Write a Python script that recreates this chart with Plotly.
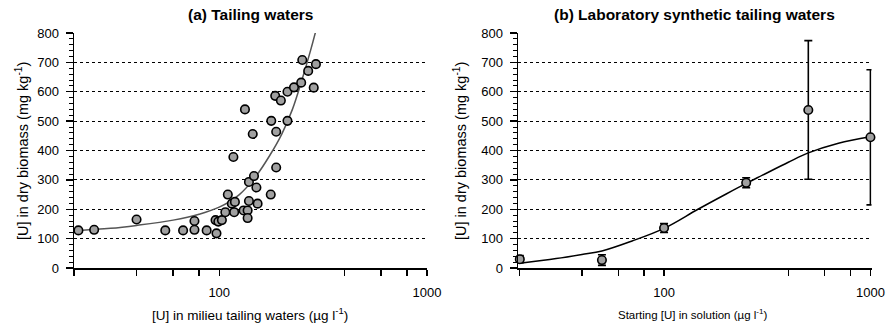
import plotly.graph_objects as go
import numpy as np

# ---- Panel (a): tailing waters (scatter + fitted curve) ----
a_x = [21, 25, 40, 55, 67, 76, 76, 87, 97, 96, 99, 103, 107, 110, 115, 119, 118,
       131, 137, 137, 139, 139, 147, 151, 153, 177, 188,
       117, 133, 145, 178, 188, 213, 186, 198, 213, 229, 248, 251, 268, 285, 292]
a_y = [128, 130, 165, 128, 128, 160, 130, 128, 118, 163, 158, 163, 190, 250, 219, 225, 190,
       196, 196, 170, 228, 293, 313, 274, 219, 250, 342,
       378, 540, 456, 501, 464, 501, 586, 570, 600, 615, 631, 708, 671, 614, 694]
a_fit_x = [20, 30, 40, 60, 80, 100, 125, 150, 175, 200, 225, 250, 275, 300]
a_fit_y = [127, 135, 145, 163, 183, 207, 250, 312, 383, 456, 540, 640, 740, 840]

# ---- Panel (b): laboratory synthetic tailing waters ----
b_x = [20, 50, 100, 250, 500, 1000]
b_y = [30, 27, 136, 290, 538, 445]
b_err = [12, 18, 15, 17, 236, 230]
b_fit_x = [20, 30, 40, 50, 70, 100, 146, 200, 250, 300, 400, 500, 700, 1000]
b_fit_y = [16, 32, 46, 58, 92, 135, 200, 252, 288, 316, 360, 392, 425, 447]

# tick labels
x_tickvals = [20, 40, 60, 80, 100, 400, 600, 800, 1000]
x_ticktext = ["", "", "", "", "100", "", "", "", "1000"]
y_tickvals = [0, 100, 200, 300, 400, 500, 600, 700, 800]

FONT = "Liberation Sans, Arial, sans-serif"
W, H = 887, 327
marker_style = dict(size=8.5, color="#a0a0a0", line=dict(color="black", width=1.6))

fig = go.Figure()
fig.add_trace(go.Scatter(x=a_fit_x, y=a_fit_y, mode="lines",
                         line=dict(color="#555555", width=1.5, shape="spline"),
                         xaxis="x", yaxis="y", hoverinfo="skip"))
fig.add_trace(go.Scatter(x=a_x, y=a_y, mode="markers", marker=marker_style,
                         xaxis="x", yaxis="y", cliponaxis=False))

fig.add_trace(go.Scatter(x=b_fit_x, y=b_fit_y, mode="lines",
                         line=dict(color="black", width=1.5, shape="spline"),
                         xaxis="x2", yaxis="y2", hoverinfo="skip"))
fig.add_trace(go.Scatter(x=b_x, y=b_y, mode="markers", marker=marker_style,
                         error_y=dict(type="data", array=b_err, visible=True, color="black",
                                      thickness=1.6, width=4),
                         xaxis="x2", yaxis="y2", cliponaxis=False))

# plot areas in pixels
L1, R1 = 74, 427
L2, R2 = 518, 871.5
T, B = 33, 268


def px(v):
    return v / W


def xaxis_common(dom, anchor, rng):
    return dict(domain=[px(dom[0]), px(dom[1])], anchor=anchor, type="log", automargin=False,
                range=rng, tickmode="array", tickvals=x_tickvals, ticktext=x_ticktext,
                ticks="outside", ticklen=6, tickwidth=1.3, tickcolor="black",
                showline=True, linecolor="black", linewidth=1.5, showgrid=False, zeroline=False,
                tickfont=dict(family=FONT, size=13, color="black"), ticklabelstandoff=6)


def yaxis_common(anchor):
    return dict(domain=[1 - B / H, 1 - T / H], anchor=anchor, range=[0, 800], automargin=False,
                tickmode="array", tickvals=y_tickvals,
                ticks="outside", ticklen=7, tickwidth=1.3, tickcolor="black",
                showline=True, linecolor="black", linewidth=1.5,
                showgrid=True, gridcolor="black", gridwidth=1, griddash="dot", zeroline=False,
                minor=dict(dtick=20, ticks="outside", ticklen=4, tickcolor="black",
                           tickwidth=1, showgrid=False),
                tickfont=dict(family=FONT, size=13, color="black"), ticklabelstandoff=4)


fig.update_layout(
    width=W, height=H, margin=dict(l=0, r=0, t=0, b=0, pad=0, autoexpand=False),
    paper_bgcolor="white", plot_bgcolor="white", showlegend=False, hovermode=False,
    xaxis=xaxis_common((L1, R1), "y", [np.log10(20), 3]),
    yaxis=yaxis_common("x"),
    xaxis2=xaxis_common((L2, R2), "y2", [np.log10(19.6), np.log10(1012)]),
    yaxis2=yaxis_common("x2"),
    font=dict(family=FONT, color="black"),
)

ann = []
ann.append(dict(text="<b>(a) Tailing waters</b>", x=px((L1 + R1) / 2), y=1 - 15 / H,
                xref="paper", yref="paper", showarrow=False, font=dict(size=15.5, family=FONT),
                xanchor="center", yanchor="middle"))
ann.append(dict(text="<b>(b) Laboratory synthetic tailing waters</b>", x=px(694), y=1 - 15 / H,
                xref="paper", yref="paper", showarrow=False, font=dict(size=15.5, family=FONT),
                xanchor="center", yanchor="middle"))
ann.append(dict(text="[U] in milieu tailing waters (µg l<sup>-1</sup>)", x=px(250), y=1 - 314 / H,
                xref="paper", yref="paper", showarrow=False, font=dict(size=13.5, family=FONT),
                xanchor="center", yanchor="middle"))
ann.append(dict(text="Starting [U] in solution (µg l<sup>-1</sup>)", x=px(692), y=1 - 314 / H,
                xref="paper", yref="paper", showarrow=False, font=dict(size=11.5, family=FONT),
                xanchor="center", yanchor="middle"))
for xc in (22, 460):
    ann.append(dict(text="[U] in dry biomass (mg kg<sup>-1</sup>)", x=px(xc), y=1 - 151 / H,
                    xref="paper", yref="paper", showarrow=False, textangle=-90,
                    font=dict(size=14.5, family=FONT), xanchor="center", yanchor="middle"))
fig.update_layout(annotations=ann)

fig.write_html("out.html", config={"displayModeBar": False, "staticPlot": True},
               post_script="document.body.style.margin='0';document.body.style.overflow='hidden';")
